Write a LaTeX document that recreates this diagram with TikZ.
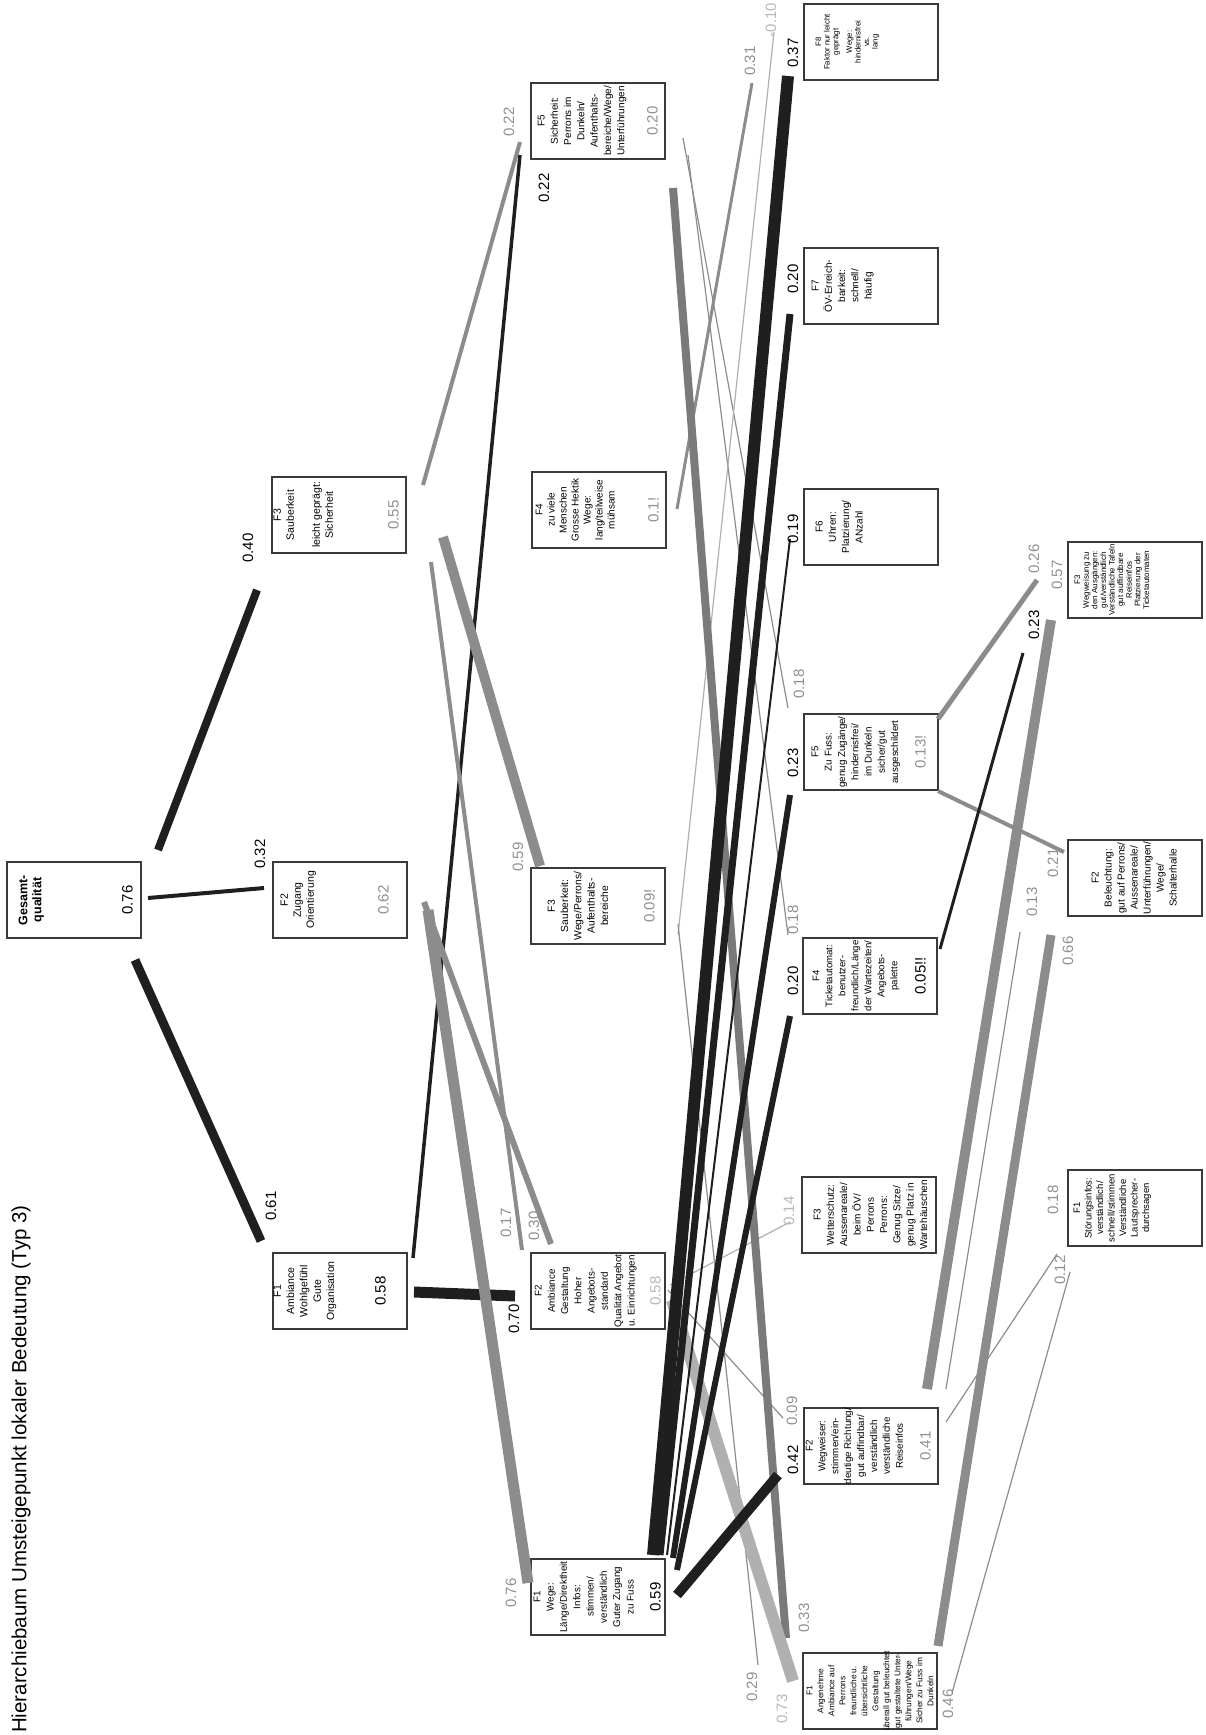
\documentclass[tikz,border=0pt]{standalone}
\usepackage{fontspec}
\setmainfont{Liberation Sans}
\usetikzlibrary{calc}

\definecolor{barblack}{HTML}{1F1F1F}
\definecolor{bargray}{HTML}{8C8C8C}
\definecolor{bardark}{HTML}{7A7A7A}
\definecolor{barlight}{HTML}{B0B0B0}
\definecolor{labgray}{HTML}{909090}
\definecolor{lablight}{HTML}{B8B8B8}
\definecolor{framecol}{HTML}{3A3A3A}

\begin{document}
\begin{tikzpicture}[x=1pt, y=-1pt,
  fbox/.style={draw=framecol, line width=1.1pt, minimum width=134pt, minimum height=76pt, inner sep=0pt},
  ftext/.style={rotate=90, anchor=north, align=center, inner sep=0pt, font=\fontsize{10}{13}\selectfont},
  fval/.style={rotate=90, inner sep=0pt, font=\fontsize{15}{15}\selectfont},
  wlab/.style={rotate=90, inner sep=0pt, font=\fontsize{15}{15}\selectfont},
  bk/.style={draw=barblack, line width=#1pt},
  gy/.style={draw=bargray, line width=#1pt},
  dg/.style={draw=bardark, line width=#1pt},
  lg/.style={draw=barlight, line width=#1pt}]
  \useasboundingbox (0,0) rectangle (1206,1735);

  % title
  \node[rotate=90, anchor=west, inner sep=0pt, font=\fontsize{20.5}{21}\selectfont] (title) at (21,1733)
    {Hierarchiebaum Umsteigepunkt lokaler Bedeutung (Typ 3)};

  % level 1 and 2
  \node[fbox] (root) at (74,900) {};
  \node[ftext, font=\bfseries\fontsize{12.5}{14}\selectfont] (roott) at ($(root.west)+(12,0)$) {Gesamt-\\qualität};
  \node[fval] (rootv) at ($(root.east)+(-14,0)$) {0.76};

  \node[fbox] (amb) at (340,1291) {};
  \node[ftext, font=\fontsize{10.5}{13.3}\selectfont] (ambt) at ($(amb.west)+(1,0)$) {F1\\Ambiance\\Wohlgefühl\\Gute\\Organisation};
  \node[fval] (ambv) at ($(amb.east)+(-27,0)$) {0.58};

  \node[fbox] (zug) at (340,900) {};
  \node[ftext, font=\fontsize{10.5}{13}\selectfont] (zugt) at ($(zug.west)+(8,0)$) {F2\\Zugang\\Orientierung};
  \node[fval, text=labgray] (zugv) at ($(zug.east)+(-24,0)$) {0.62};

  \node[fbox] (sau) at (339,515) {};
  \node[ftext, font=\fontsize{10.5}{13}\selectfont] (saut) at ($(sau.west)+(2,0)$) {F3\\Sauberkeit\\[13pt]leicht geprägt:\\Sicherheit};
  \node[fval, text=labgray] (sauv) at ($(sau.east)+(-13,0)$) {0.55};

  % level 3
  \node[fbox] (wege) at (598,1597) {};
  \node[ftext, font=\fontsize{9.8}{13.3}\selectfont] (weget) at ($(wege.west)+(3,0)$) {F1\\Wege:\\Länge/Direktheit\\Infos:\\stimmen/\\verständlich\\Guter Zugang\\zu Fuss};
  \node[fval] (wegev) at ($(wege.east)+(-10,0)$) {0.59};

  \node[fbox] (gest) at (598,1291) {};
  \node[ftext, font=\fontsize{9.8}{13.3}\selectfont] (gestt) at ($(gest.west)+(4,0)$) {F2\\Ambiance\\Gestaltung\\Hoher\\Angebots-\\standard\\Qualität Angebot\\u. Einrichtungen};
  \node[fval, text=lablight] (gestv) at ($(gest.east)+(-10,0)$) {0.58};

  \node[fbox] (sau3) at (598,906) {};
  \node[ftext, font=\fontsize{10.3}{13.3}\selectfont] (sau3t) at ($(sau3.west)+(17,0)$) {F3\\Sauberkeit:\\Wege/Perrons/\\Aufenthalts-\\bereiche};
  \node[fval, text=labgray] (sau3v) at ($(sau3.east)+(-16,0)$) {0.09!};

  \node[fbox] (meng) at (599,510) {};
  \node[ftext, font=\fontsize{10}{12}\selectfont] (mengt) at ($(meng.west)+(4,0)$) {F4\\zu viele\\Menschen\\Grosse Hektik\\Wege:\\lang/teilweise\\mühsam};
  \node[fval, text=labgray] (mengv) at ($(meng.east)+(-13,0)$) {0.1!};

  \node[fbox] (sich) at (598,121) {};
  \node[ftext, font=\fontsize{10}{13.3}\selectfont] (sicht) at ($(sich.west)+(7,0)$) {F5\\Sicherheit:\\Perrons im\\Dunkeln/\\Aufenthalts-\\bereiche/Wege/\\Unterführungen};
  \node[fval, text=labgray] (sichv) at ($(sich.east)+(-13,0)$) {0.20};

  % level 4
  \node[fbox] (ange) at (870,1691) {};
  \node[ftext, font=\fontsize{8.3}{11}\selectfont] (anget) at ($(ange.west)+(4,0)$) {F1\\Angenehme\\Ambiance auf\\Perrons\\freundliche u.\\übersichtliche\\Gestaltung\\überall gut beleuchtet\\gut gestaltete Unter-\\führungen/Wege\\Sicher zu Fuss im\\Dunkeln};
  \node[fval, text=labgray] (angev) at (948,1704) {0.46};

  \node[fbox] (wegw) at (871,1446) {};
  \node[ftext, font=\fontsize{9.8}{12.9}\selectfont] (wegwt) at ($(wegw.west)+(2,0)$) {F2\\Wegweiser:\\stimmen/ein-\\deutige Richtung/\\gut auffindbar/\\verständlich\\verständliche\\Reiseinfos};
  \node[fval, text=labgray] (wegwv) at ($(wegw.east)+(-13,0)$) {0.41};

  \node[fbox] (wett) at (869,1215) {};
  \node[ftext, font=\fontsize{10}{13.3}\selectfont] (wettt) at ($(wett.west)+(12,0)$) {F3\\Wetterschutz:\\Aussenareale/\\beim ÖV/\\Perrons\\Perrons:\\Genug Sitze/\\genug Platz in\\Wartehäuschen};

  \node[fbox] (tick) at (870,976) {};
  \node[ftext, font=\fontsize{9.6}{13}\selectfont] (tickt) at ($(tick.west)+(10,0)$) {F4\\Ticketautomat:\\benutzer-\\freundlich/Länge\\der Wartezeiten/\\Angebots-\\palette};
  \node[fval] (tickv) at ($(tick.east)+(-17,0)$) {0.05!!};

  \node[fbox] (fuss) at (871,752) {};
  \node[ftext, font=\fontsize{9.8}{13.3}\selectfont] (fusst) at ($(fuss.west)+(8,0)$) {F5\\Zu Fuss:\\genug Zugänge/\\hindernisfrei/\\im Dunkeln\\sicher/gut\\ausgeschildert};
  \node[fval, text=labgray] (fussv) at ($(fuss.east)+(-18,0)$) {0.13!};

  \node[fbox] (uhr) at (871,527) {};
  \node[ftext, font=\fontsize{10}{13.3}\selectfont] (uhrt) at ($(uhr.west)+(12,0)$) {F6\\Uhren:\\Platzierung/\\ANzahl};

  \node[fbox] (oev) at (871,286) {};
  \node[ftext, font=\fontsize{10}{13.3}\selectfont] (oevt) at ($(oev.west)+(8,0)$) {F7\\ÖV-Erreich-\\barkeit:\\schnell/\\häufig};

  \node[fbox] (fak8) at (871,42) {};
  \node[ftext, font=\fontsize{7.8}{8.6}\selectfont] (fak8t) at ($(fak8.west)+(12,0)$) {F8\\Faktor nur leicht\\geprägt\\[5pt]Wege:\\hindernisfrei\\vs.\\lang};

  % level 5
  \node[fbox] (stoer) at (1135,1208) {};
  \node[ftext, font=\fontsize{9.5}{11.5}\selectfont] (stoert) at ($(stoer.west)+(6,0)$) {F1\\Störungsinfos:\\verständlich/\\schnell/stimmen\\Verständliche\\Lautsprecher-\\durchsagen};

  \node[fbox] (bel) at (1135,878) {};
  \node[ftext, font=\fontsize{10}{13}\selectfont] (belt) at ($(bel.west)+(24,0)$) {F2\\Beleuchtung:\\gut auf Perrons/\\Aussenareale/\\Unterführungen/\\Wege/\\Schalterhalle};

  \node[fbox] (wegz) at (1135,580) {};
  \node[ftext, font=\fontsize{8}{8.6}\selectfont] (wegzt) at ($(wegz.west)+(7,0)$) {F3\\Wegweisung zu\\den Ausgängen:\\gut/verständlich\\Verständliche Tafeln\\gut auffindbare\\Reiseinfos\\Platzierung der\\Ticketautomaten};

  % level 1 -> 2
  \draw[bk=9] ($(root)+(61,60)$) -- ($(amb)+(-79,-50)$);
  \draw[bk=4] ($(root)+(74,-2)$) -- ($(zug)+(-76,-12)$);
  \draw[bk=8] ($(root)+(84,-50)$) -- ($(sau)+(-82,75)$);

  % level 2 -> 3
  \draw[bk=11] ($(amb)+(74,1)$) -- ($(gest)+(-83,5)$);
  \draw[bk=3.5] ($(amb)+(73,-33)$) -- ($(sich)+(-78,34)$);
  \draw[gy=4] ($(sau)+(84,-30)$) -- ($(sich)+(-78,21)$);
  \draw[gy=10] ($(sau)+(104,22)$) -- ($(sau3)+(-58,-40)$);
  \draw[gy=4] ($(sau)+(92,47)$) -- ($(gest)+(-76,-41)$);
  \draw[gy=6] ($(zug)+(84,2)$) -- ($(gest)+(-47,-47)$);
  \draw[gy=11] ($(zug)+(88,10)$) -- ($(wege)+(-70,-14)$);

  % level 3 -> 4
  \draw[gy=1.2] ($(sich)+(85,17)$) -- ($(fuss)+(-83,-44)$);
  \draw[gy=1.2] ($(sich)+(90,34)$) -- ($(tick)+(-82,-41)$);
  \draw[gy=3] ($(meng)+(78,-1)$) -- ($(fak8)+(-119,41)$);
  \draw[lg=1.2] ($(sau3)+(80,29)$) -- ($(fak8)+(-97,-10)$);
  \draw[gy=1.2] ($(sau3)+(80,18)$) -- ($(ange)+(-112,-26)$);
  \draw[lg=1.2] ($(gest)+(72,-6)$) -- ($(wett)+(-79,7)$);
  \draw[gy=1.2] ($(gest)+(70,-1)$) -- ($(wegw)+(-88,-28)$);
  \draw[dg=8] ($(sich)+(75,67)$) -- ($(ange)+(-84,-53)$);
  \draw[lg=12] ($(gest)+(74,9)$) -- ($(ange)+(-77,-10)$);
  \draw[bk=12] ($(wege)+(55,-42)$) -- ($(fak8)+(-83,34)$);
  \draw[bk=7] ($(wege)+(62,-42)$) -- ($(oev)+(-81,28)$);
  \draw[bk=2] ($(wege)+(69,-42)$) -- ($(uhr)+(-81,12)$);
  \draw[bk=6] ($(wege)+(75,-39)$) -- ($(fuss)+(-81,43)$);
  \draw[bk=6] ($(wege)+(79,-27)$) -- ($(tick)+(-80,40)$);
  \draw[bk=10] ($(wege)+(79,-2)$) -- ($(wegw)+(-93,29)$);

  % level 4 -> 5
  \draw[gy=10] ($(wegw)+(56,-57)$) -- ($(wegz)+(-84,40)$);
  \draw[gy=1.2] ($(wegw)+(75,-57)$) -- ($(bel)+(-115,54)$);
  \draw[gy=1.2] ($(wegw)+(75,-24)$) -- ($(stoer)+(-78,46)$);
  \draw[gy=9] ($(ange)+(68,-45)$) -- ($(bel)+(-84,57)$);
  \draw[gy=1.2] ($(ange)+(82,2)$) -- ($(stoer)+(-65,64)$);
  \draw[gy=5] ($(fuss)+(67,-33)$) -- ($(wegz)+(-98,0)$);
  \draw[gy=4] ($(fuss)+(67,39)$) -- ($(bel)+(-71,-26)$);
  \draw[bk=3] ($(tick)+(70,-27)$) -- ($(wegz)+(-112,73)$);

  % weights
  \node[wlab] (w061) at (271,1206) {0.61};
  \node[wlab] (w032) at (260,854) {0.32};
  \node[wlab] (w040) at (248,548) {0.40};
  \node[wlab, text=labgray] (w076) at (511,1593) {0.76};
  \node[wlab] (w070) at (514,1319) {0.70};
  \node[wlab, text=labgray] (w017) at (506,1223) {0.17};
  \node[wlab, text=labgray] (w030) at (534,1226) {0.30};
  \node[wlab, text=labgray] (w059) at (518,857) {0.59};
  \node[wlab, text=labgray] (w022g) at (509,122) {0.22};
  \node[wlab] (w022b) at (544,188) {0.22};

  \node[wlab] (w037) at (793,53) {0.37};
  \node[wlab, text=labgray] (w031) at (750,61) {0.31};
  \node[wlab, text=lablight] (w010) at (771,20) {-0.10};
  \node[wlab] (w020a) at (793,279) {0.20};
  \node[wlab] (w019) at (793,529) {0.19};
  \node[wlab] (w023a) at (793,763) {0.23};
  \node[wlab, text=labgray] (w018a) at (799,684) {0.18};
  \node[wlab] (w020b) at (793,981) {0.20};
  \node[wlab, text=labgray] (w018b) at (793,920) {0.18};
  \node[wlab, text=lablight] (w014) at (789,1211) {0.14};
  \node[wlab] (w042) at (793,1460) {0.42};
  \node[wlab, text=labgray] (w009) at (792,1411) {0.09};
  \node[wlab, text=labgray] (w033) at (804,1618) {0.33};
  \node[wlab, text=lablight] (w073) at (782,1709) {0.73};
  \node[wlab, text=labgray] (w029) at (752,1687) {0.29};

  \node[wlab, text=labgray] (w018c) at (1053,1200) {0.18};
  \node[wlab, text=labgray] (w012) at (1060,1270) {0.12};
  \node[wlab, text=labgray] (w066) at (1068,951) {0.66};
  \node[wlab, text=labgray] (w013) at (1032,902) {0.13};
  \node[wlab, text=labgray] (w021) at (1053,863) {0.21};
  \node[wlab] (w023b) at (1034,625) {0.23};
  \node[wlab, text=labgray] (w026) at (1034,559) {0.26};
  \node[wlab, text=labgray] (w057) at (1057,575) {0.57};
\end{tikzpicture}
\end{document}
